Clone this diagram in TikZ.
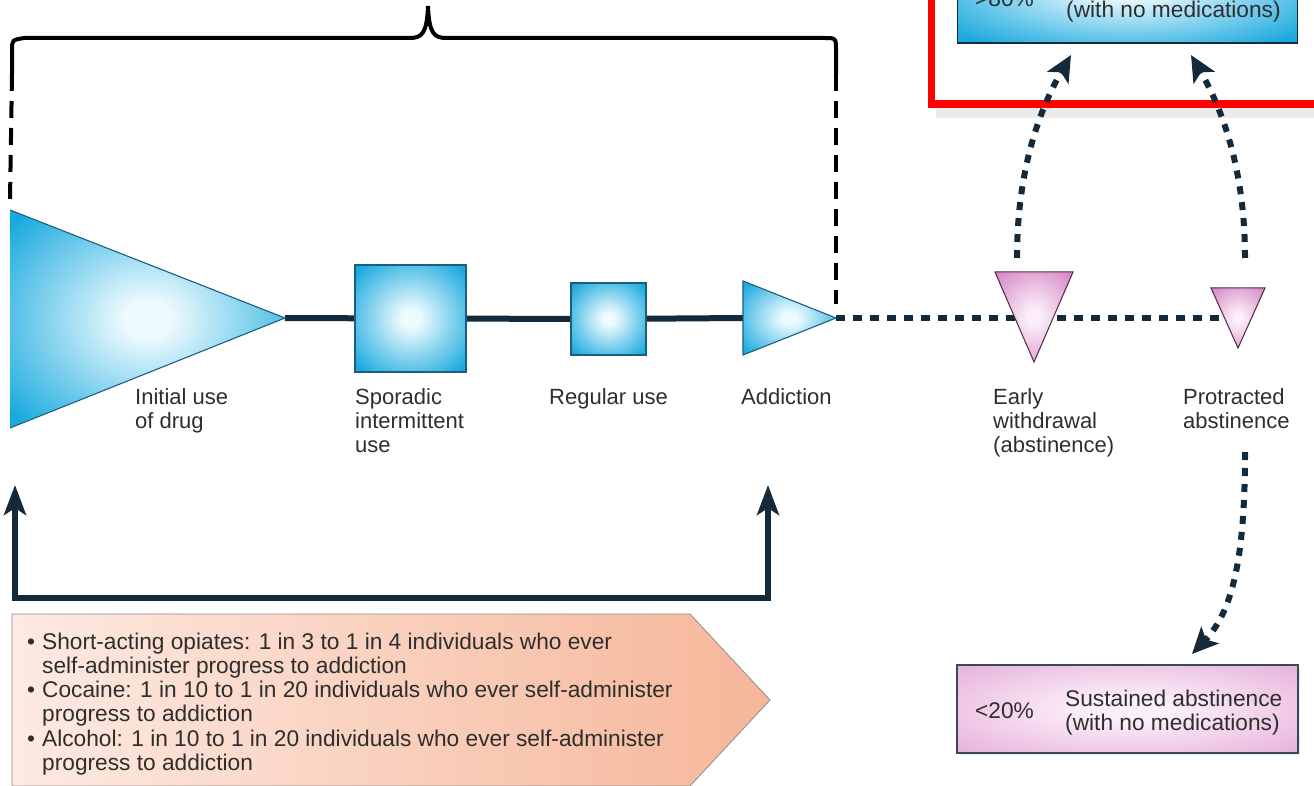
\documentclass[tikz,border=0pt]{standalone}
\usepackage{fontspec}
\setmainfont{Liberation Sans}
\usetikzlibrary{arrows.meta,shadows,backgrounds}
\definecolor{navy}{HTML}{142A3A}
\definecolor{bluedark}{HTML}{19A9DE}
\definecolor{bluelight}{HTML}{EEFBFE}
\definecolor{blueedge}{HTML}{1B5E7E}
\definecolor{pinkdark}{HTML}{D78AC6}
\definecolor{pinklight}{HTML}{FCEFF9}
\definecolor{pinkbox}{HTML}{E6B0DA}
\definecolor{pinkedge}{HTML}{4A2A40}
\definecolor{peachL}{HTML}{FDEAE2}
\definecolor{peachR}{HTML}{F6B699}
\definecolor{txt}{HTML}{2E2E2E}
\pgfdeclareradialshading{softblue}{\pgfpoint{0bp}{0bp}}{color(0bp)=(bluelight); color(4bp)=(bluelight); color(33bp)=(bluedark); color(50bp)=(bluedark)}
\pgfdeclareradialshading{softpink}{\pgfpoint{0bp}{0bp}}{color(0bp)=(pinklight); color(4bp)=(pinklight); color(33bp)=(pinkdark); color(50bp)=(pinkdark)}
\pgfdeclareradialshading{softpinkbox}{\pgfpoint{0bp}{0bp}}{color(0bp)=(pinklight); color(6bp)=(pinklight); color(36bp)=(pinkbox); color(50bp)=(pinkbox)}
\begin{document}
\begin{tikzpicture}[x=1pt,y=-1pt,
  lbl/.style={anchor=base west, inner sep=0pt, align=left, text=txt,
              font=\fontsize{22}{24.3}\selectfont},
  boxlbl/.style={lbl, font=\fontsize{22.7}{24.3}\selectfont},
  blueshape/.style={shading=softblue},
  pinkshape/.style={shading=softpink},
  edgeb/.style={draw=blueedge, line width=1.1pt},
  edgep/.style={draw=pinkedge, line width=1pt},
  mainline/.style={draw=navy, line width=6pt},
  dotline/.style={draw=navy, line width=6pt, dash pattern=on 9pt off 8pt},
  dotarrow/.style={draw=navy, line width=6pt, dash pattern=on 8pt off 8pt,
                   -{Stealth[length=26pt,width=24pt,inset=6pt]}},
  bracearm/.style={draw=black, line width=4pt},
  dashv/.style={draw=black, line width=4pt, dash pattern=on 17pt off 10pt},
  ubracket/.style={draw=navy, line width=6pt, line join=miter,
                   {Stealth[length=30pt,width=22pt,inset=7pt]}-{Stealth[length=30pt,width=22pt,inset=7pt]}},
]
\useasboundingbox (0,0) rectangle (1314,786);
\clip (0,0) rectangle (1314,786);

% ---------- key points ----------
\coordinate (iA) at (10,210);
\coordinate (iB) at (10,428);
\coordinate (itip) at (285,318);
\coordinate (aA) at (743,281);
\coordinate (aB) at (743,355);
\coordinate (aL) at (743,318);
\coordinate (atip) at (836,318);
\coordinate (eA) at (995,272);
\coordinate (eB) at (1073,272);
\coordinate (etip) at (1034,362);
\coordinate (pA) at (1211,288);
\coordinate (pB) at (1265,288);
\coordinate (ptip) at (1238,348);
\coordinate (pc) at (1238,318);
\coordinate (bL) at (12,74);
\coordinate (bR) at (836,74);
\coordinate (upL) at (15,485);
\coordinate (upR) at (768,485);
\coordinate (ewup) at (1017,258);
\coordinate (paup) at (1245,258);
\coordinate (paDn) at (1245,452);
\coordinate (toA) at (1071,55);
\coordinate (toB) at (1191,55);
\coordinate (toC) at (1192,654);

% ---------- brace over the using phase ----------
\draw[bracearm] (bL) -- (12,50) .. controls (12,40) .. (24,38) -- (410,38)
   .. controls (422,38) and (427,33) .. (428,6)
   .. controls (429,33) and (434,38) .. (446,38) -- (824,38)
   .. controls (836,38) .. (836,50) -- (bR);
\draw[dashv] (bL) -- ([yshift=10pt]iA);
\draw[dashv] (bR) -- ([yshift=14pt]atip);

% ---------- squares ----------
\node[draw=blueedge, line width=1.1pt, blueshape, minimum width=111pt,
      minimum height=107pt, inner sep=0pt] (spor) at (410.5,318.5) {};
\node[draw=blueedge, line width=1.1pt, blueshape, minimum width=75pt,
      minimum height=72pt, inner sep=0pt] (reg) at (608.5,319) {};

% ---------- main line and dotted continuation (behind shapes) ----------
\begin{pgfonlayer}{background}
\draw[mainline] (itip) -- (spor);
\draw[mainline] (spor) -- (reg);
\draw[mainline] (reg) -- (aL);
\draw[dotline] (atip) -- (pc);
\end{pgfonlayer}

% ---------- blue triangles ----------
\shade[blueshape] (iA) -- (itip) -- (iB) -- cycle;
\draw[edgeb] (iA) -- (itip) -- (iB);
\shade[blueshape] (aA) -- (atip) -- (aB) -- cycle;
\draw[edgeb] (aA) -- (atip) -- (aB) -- cycle;

% ---------- pink triangles ----------
\shade[pinkshape] (eA) -- (eB) -- (etip) -- cycle;
\draw[edgep] (eA) -- (eB) -- (etip) -- cycle;
\shade[pinkshape] (pA) -- (pB) -- (ptip) -- cycle;
\draw[edgep] (pA) -- (pB) -- (ptip) -- cycle;

% ---------- stage labels (anchor = baseline of last line) ----------
\node[lbl] (l1) at (135,428.3) {Initial use\\of drug};
\node[lbl] (l2) at (355,452.6) {Sporadic\\intermittent\\use};
\node[lbl] (l3) at (549,404) {Regular use};
\node[lbl] (l4) at (741,404) {Addiction};
\node[lbl] (l5) at (993,452.6) {Early\\withdrawal\\(abstinence)};
\node[lbl] (l6) at (1183,428.3) {Protracted\\abstinence};

% ---------- return bracket ----------
\draw[ubracket] (upL) -- (15,598) -- (768,598) -- (upR);

% ---------- facts arrow box ----------
\shade[left color=peachL, right color=peachR, draw=black!45, line width=0.8pt]
  (12,614) -- (690,614) -- (770,700) -- (690,786) -- (12,786) -- cycle;
\node[boxlbl] (facts) at (27,770.5) {%
\makebox[15pt][l]{\textbullet}Short-acting opiates: 1 in 3 to 1 in 4 individuals who ever\\
\hspace*{15pt}self-administer progress to addiction\\
\makebox[15pt][l]{\textbullet}Cocaine: 1 in 10 to 1 in 20 individuals who ever self-administer\\
\hspace*{15pt}progress to addiction\\
\makebox[15pt][l]{\textbullet}Alcohol: 1 in 10 to 1 in 20 individuals who ever self-administer\\
\hspace*{15pt}progress to addiction};

% ---------- top (cropped) outcome box with red highlight ----------
\node[draw=navy, line width=1.1pt, blueshape, minimum width=340pt,
      minimum height=110pt, inner sep=0pt] (relapse) at (1127.5,-12) {};
\node[boxlbl] (relpct) at (975,6.5) {>80\%};
\node[boxlbl] (reltxt) at (1066,18) {(with no medications)};
\draw[black, opacity=0.08, line width=10pt] (936,113) -- (1320,113);
\draw[red, line width=7.5pt] (931.5,-20) rectangle (1330,104);

% ---------- bottom outcome box ----------
\node[draw=navy!85, line width=1.2pt, shading=softpinkbox,
      minimum width=341pt, minimum height=88pt, inner sep=0pt,
      drop shadow={opacity=0.15, shadow xshift=2pt, shadow yshift=-2pt}]
      (sustained) at (1127.5,709) {};
\node[boxlbl] (suspct) at (975,718) {<20\%};
\node[boxlbl] (sustxt) at (1065,730.3) {Sustained abstinence\\(with no medications)};

% ---------- dotted outcome arrows ----------
\draw[dotarrow] (ewup) .. controls (1017,160) and (1045,100) .. (toA);
\draw[dotarrow] (paup) .. controls (1245,160) and (1217,100) .. (toB);
\draw[dotarrow] (paDn) .. controls (1245,560) and (1232,612) .. (toC);
\end{tikzpicture}
\end{document}
